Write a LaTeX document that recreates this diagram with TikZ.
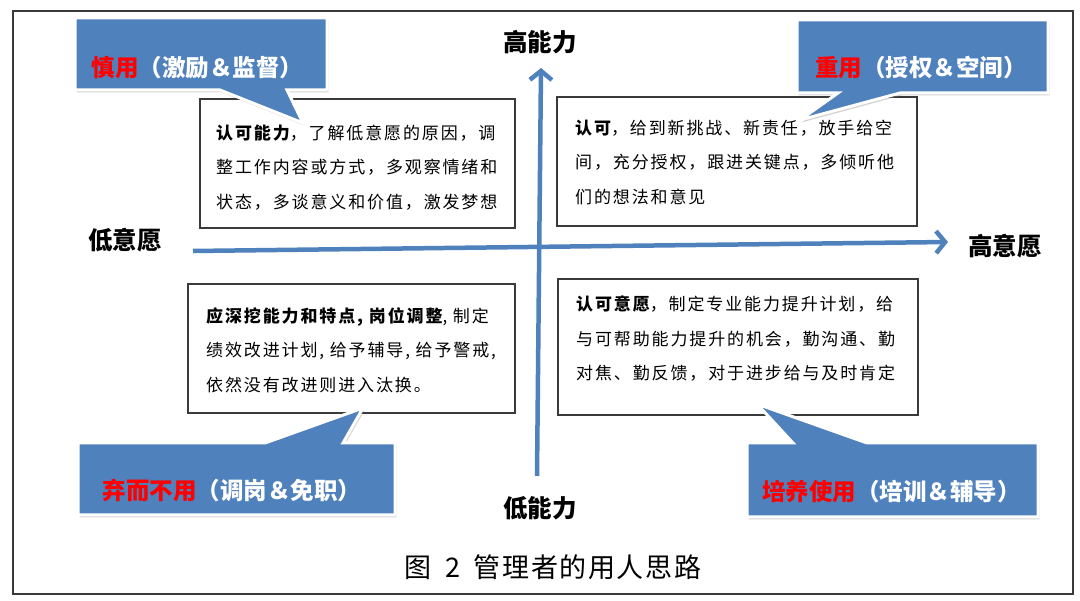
\documentclass[tikz,border=0pt]{standalone}
\usepackage{fontspec}
\usetikzlibrary{arrows.meta,shadows}
\newfontfamily\cjk{Noto Sans CJK SC}
\newfontfamily\cjkls{Noto Sans CJK SC}[LetterSpace=11]
\newfontfamily\cjkcap{Noto Sans CJK SC}[LetterSpace=6]
\definecolor{axisblue}{HTML}{4F81BD}
\definecolor{frameg}{HTML}{3A3A3A}
\definecolor{hired}{HTML}{FF0000}
\tikzset{
  qbox/.style={draw=frameg, line width=1.4pt, fill=white, inner sep=0pt},
  qtext/.style={font=\cjkls\fontsize{17}{34.5}\selectfont, align=left, anchor=west, inner sep=0pt},
  axislabel/.style={font=\cjk\bfseries\fontsize{24.5}{28}\selectfont, inner sep=0pt},
  callout/.style={fill=axisblue, draw=white, line width=3pt, line join=miter,
    drop shadow={opacity=0.35, shadow xshift=1.5pt, shadow yshift=-2.5pt}},
  callouttext/.style={font=\cjk\bfseries\fontsize{23.5}{27}\selectfont, text=white, inner sep=0pt},
  axisarrow/.style={draw=axisblue, line width=4.5pt, -{Straight Barb[length=9pt,width=22pt]}},
}
\begin{document}
\begin{tikzpicture}[x=1pt,y=-1pt]
\useasboundingbox (0,0) rectangle (1080,601);
% outer frame
\draw[frameg, line width=2pt] (13,11) rectangle (1073,594);

% axes
\coordinate (hstart) at (193,251);
\coordinate (hend) at (948,242);
\coordinate (vstart) at (537,476);
\coordinate (vend) at (541,68);
\draw[axisarrow] (hstart) -- (hend);
\draw[axisarrow] (vstart) -- (vend);

% axis labels
\node[axislabel] (highability) at (540,42) {高能力};
\node[axislabel] (lowability) at (540,508) {低能力};
\node[axislabel] (lowwill) at (125,240) {低意愿};
\node[axislabel] (highwill) at (1005,246) {高意愿};

% quadrant boxes
\node[qbox, minimum width=315pt, minimum height=129pt] (tlbox) at (357.5,163.5) {};
\node[qbox, minimum width=360pt, minimum height=129pt] (trbox) at (737,161.5) {};
\node[qbox, minimum width=327pt, minimum height=129pt] (blbox) at (351.5,348.5) {};
\node[qbox, minimum width=360pt, minimum height=136pt] (brbox) at (738,347) {};

\node[qtext] (tltext) at (216,167.5) {{\bfseries 认可能力}，了解低意愿的原因，调\\整工作内容或方式，多观察情绪和\\状态，多谈意义和价值，激发梦想};
\node[qtext] (trtext) at (575,162) {{\bfseries 认可}，给到新挑战、新责任，放手给空\\间，充分授权，跟进关键点，多倾听他\\们的想法和意见};
\node[qtext] (bltext) at (206,350) {{\bfseries 应深挖能力和特点,\ 岗位调整},\ 制定\\绩效改进计划,\ 给予辅导,\ 给予警戒,\\依然没有改进则进入汰换。};
\node[qtext] (brtext) at (576,339) {{\bfseries 认可意愿}，制定专业能力提升计划，给\\与可帮助能力提升的机会，勤沟通、勤\\对焦、勤反馈，对于进步给与及时肯定};

% callouts
\path[callout] (75,18) -- (327,18) -- (327,90) -- (287,90) -- (303,123) -- (220,90) -- (75,90) -- cycle;
\path[callout] (797,20) -- (1048,20) -- (1048,93) -- (900,93) -- (800,120) -- (838,93) -- (797,93) -- cycle;
\path[callout] (78,443) -- (265,443) -- (363,408) -- (343,443) -- (395,443) -- (395,515) -- (78,515) -- cycle;
\path[callout] (747,443) -- (793,443) -- (757,404) -- (867,443) -- (1038,443) -- (1038,517) -- (747,517) -- cycle;

\node[callouttext] (tlcall) at (197.5,68) {{\color{hired}慎用}（激励＆监督）};
\node[callouttext] (trcall) at (921,68) {{\color{hired}重用}（授权＆空间）};
\node[callouttext] (blcall) at (232,490) {{\color{hired}弃而不用}（调岗＆免职）};
\node[callouttext] (brcall) at (891.5,492) {{\color{hired}培养使用}（培训＆辅导）};

% caption
\node[font=\cjkcap\fontsize{27}{32}\selectfont, inner sep=0pt] (caption) at (553,567) {图\enspace 2\enspace 管理者的用人思路};
\end{tikzpicture}
\end{document}
